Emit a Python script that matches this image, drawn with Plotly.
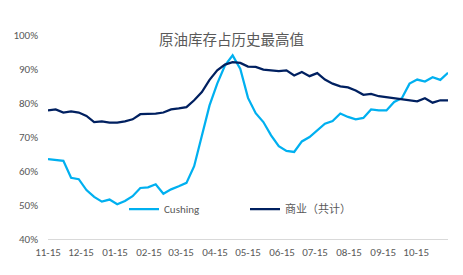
import plotly.graph_objects as go
import pandas as pd

# Weekly observations, Nov-15 to Nov-13 next year
dates = pd.date_range("2015-11-15", periods=53, freq="7D")

cushing = [63.5, 63.3, 63.0, 58.0, 57.6, 54.4, 52.4, 51.0, 51.6, 50.2,
           51.2, 52.6, 55.0, 55.2, 56.1, 53.3, 54.6, 55.5, 56.5, 61.4,
           70.7, 79.3, 85.7, 91.0, 94.0, 90.0, 81.5, 77.0, 74.4, 70.5,
           67.3, 65.9, 65.6, 68.7, 70.0, 72.0, 73.9, 74.7, 76.9, 75.9,
           75.2, 75.6, 78.1, 77.8, 77.8, 80.3, 81.4, 85.7, 86.9, 86.3,
           87.6, 86.8, 88.9]

commercial = [77.8, 78.1, 77.2, 77.5, 77.2, 76.2, 74.4, 74.6, 74.2, 74.2,
              74.6, 75.2, 76.7, 76.7, 76.9, 77.2, 78.1, 78.4, 78.8, 80.8,
              83.2, 86.8, 89.6, 91.3, 92.0, 91.8, 90.7, 90.6, 89.8, 89.6,
              89.4, 89.6, 88.1, 89.1, 87.9, 88.8, 86.9, 85.7, 84.9, 84.6,
              83.7, 82.4, 82.7, 82.0, 81.7, 81.4, 81.2, 80.8, 80.5, 81.4,
              80.1, 80.8, 80.8]

series_names = ["Cushing", "商业（共计）"]
title_text = "原油库存占历史最高值"

FONT = "Calibri, Carlito, 'Liberation Sans', Arial, 'Noto Sans CJK SC', sans-serif"

fig = go.Figure()
fig.add_trace(go.Scatter(x=dates, y=cushing, mode="lines", name=series_names[0],
                         line=dict(color="#00B0F0", width=2.25), legend="legend"))
fig.add_trace(go.Scatter(x=dates, y=commercial, mode="lines", name=series_names[1],
                         line=dict(color="#002060", width=2.25), legend="legend2"))

fig.update_layout(
    width=463, height=275,
    margin=dict(l=48, r=15, t=35, b=36),
    paper_bgcolor="white", plot_bgcolor="white",
    font=dict(family=FONT, color="#595959", size=11),
    title=dict(text=title_text, x=0.5, xref="container", xanchor="center",
               y=1 - 40 / 275, yref="container", yanchor="middle",
               font=dict(family="'Noto Sans CJK SC', sans-serif", size=14.5, color="#595959")),
    legend=dict(x=0.19, y=0.147, xanchor="left", yanchor="middle",
                bgcolor="rgba(0,0,0,0)", borderwidth=0,
                font=dict(family=FONT, size=11, color="#595959")),
    legend2=dict(x=0.4925, y=0.147, xanchor="left", yanchor="middle",
                 bgcolor="rgba(0,0,0,0)", borderwidth=0,
                 font=dict(family="'Noto Sans CJK SC', sans-serif", size=11, color="#595959")),
    showlegend=True,
)

fig.update_xaxes(
    type="date",
    range=[dates[0], dates[-1]],
    tick0="2015-11-15", dtick="M1", tickformat="%m-%d",
    showgrid=False, zeroline=False,
    showline=True, linecolor="#D9D9D9", linewidth=1,
    ticks="", ticklabelstandoff=3,
    tickfont=dict(size=11, color="#595959"),
)
fig.update_yaxes(
    range=[40, 100], dtick=10, ticksuffix="%",
    showgrid=False, zeroline=False, showline=False,
    ticks="", ticklabelstandoff=9,
    tickfont=dict(size=11, color="#595959"),
)

fig.write_html("out.html")
